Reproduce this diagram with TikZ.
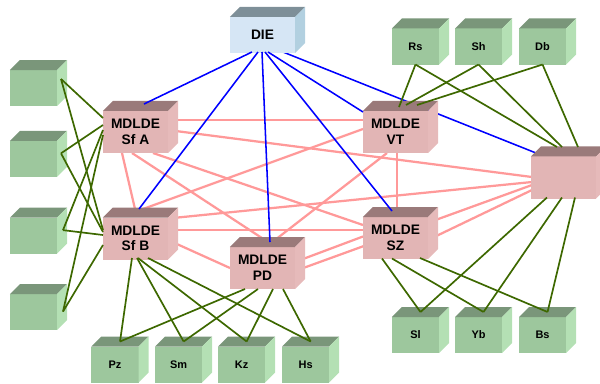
\documentclass[tikz,border=0pt]{standalone}
\usepackage{fontspec}
\setmainfont{Liberation Sans}
\usetikzlibrary{calc,positioning}
\pgfdeclarelayer{background}
\pgfdeclarelayer{foreground}
\pgfsetlayers{background,main,foreground}
\definecolor{frontgreen}{RGB}{157,199,157}
\definecolor{topgreen}{RGB}{122,150,122}
\definecolor{sidegreen}{RGB}{180,224,180}
\definecolor{frontpink}{RGB}{226,181,181}
\definecolor{toppink}{RGB}{154,122,122}
\definecolor{sidepink}{RGB}{230,186,186}
\definecolor{frontdie}{RGB}{214,230,245}
\definecolor{topdie}{RGB}{126,143,152}
\definecolor{sidedie}{RGB}{178,208,224}
\definecolor{linkblue}{RGB}{0,0,255}
\definecolor{linkgreen}{RGB}{61,104,0}
\definecolor{linkpink}{RGB}{255,153,153}
\tikzstyle{mdlde}=[fill=frontpink, minimum width=1.625cm, minimum height=1.05cm,
    inner sep=0pt, outer sep=0pt, align=center, font=\fontsize{9.8}{11.1}\selectfont\bfseries]
\tikzstyle{diebox}=[mdlde, fill=frontdie, minimum height=0.9cm]
\tikzstyle{datastore}=[mdlde, fill=frontgreen, minimum width=1.175cm, minimum height=0.9cm,
    font=\fontsize{7.8}{9}\selectfont\bfseries]
\tikzstyle{rpc}=[draw=linkblue, line width=1.1pt]
\tikzstyle{peer}=[draw=linkpink, line width=1.6pt]
\tikzstyle{feed}=[draw=linkgreen, line width=1.2pt]
\def\cubedepth{10}

\begin{document}
\begin{tikzpicture}[x=0.025cm,y=-0.025cm]
    \useasboundingbox (0,0) rectangle (600,383);
	% Define the nodes in the picture
    \node[diebox] (die) at (262.5,35) {DIE};
    \node[mdlde] (sfa) at (135.5,132) {MDLDE\\Sf A};
    \node[mdlde] (sfb) at (135.5,238.5) {MDLDE\\Sf B};
    \node[mdlde] (pd) at (262.5,268) {MDLDE\\PD};
    \node[mdlde] (vt) at (395.5,132) {MDLDE\\VT};
    \node[mdlde] (sz) at (395.5,238) {MDLDE\\SZ};
    \node[mdlde] (hub) at (563.5,177.5) {};
    \node[datastore] (l1) at (33.5,88) {};
    \node[datastore,below of=l1,node distance=1.77cm] (l2) {};
    \node[datastore,below of=l2,node distance=1.92cm] (l3) {};
    \node[datastore,below of=l3,node distance=1.91cm] (l4) {};
    \node[datastore] (rs) at (415.5,46.5) {Rs};
    \node[datastore,right of=rs,node distance=1.575cm] (sh) {Sh};
    \node[datastore,right of=sh,node distance=1.6cm] (db) {Db};
    \node[datastore] (pz) at (115,364.5) {Pz};
    \node[datastore,right of=pz,node distance=1.59cm] (sm) {Sm};
    \node[datastore,right of=sm,node distance=1.575cm] (kz) {Kz};
    \node[datastore,right of=kz,node distance=1.6cm] (hs) {Hs};
    \node[datastore] (sl) at (415.5,335) {Sl};
    \node[datastore,right of=sl,node distance=1.575cm] (yb) {Yb};
    \node[datastore,right of=yb,node distance=1.6cm] (bs) {Bs};

    % top and side faces of the boxes
    \foreach \n/\c in {die/die,sfa/pink,sfb/pink,pd/pink,vt/pink,sz/pink,hub/pink,
        l1/green,l2/green,l3/green,l4/green,rs/green,sh/green,db/green,
        pz/green,sm/green,kz/green,hs/green,sl/green,yb/green,bs/green}{
        \fill[fill=top\c] (\n.north west) -- ++(\cubedepth,-\cubedepth)
            -- ([shift={(\cubedepth,-\cubedepth)}]\n.north east) -- (\n.north east) -- cycle;
        \fill[fill=side\c] (\n.north east) -- ++(\cubedepth,-\cubedepth)
            -- ([shift={(\cubedepth,-\cubedepth)}]\n.south east) -- (\n.south east) -- cycle;
    }

    % Define the edges in the picture
    \begin{pgfonlayer}{background}
    \draw[peer] ($(sfa)+(32.5,-12)$) -- ($(vt)+(-32.5,-12)$);
    \draw[peer] ($(sfa)+(32.5,-2)$) -- ($(hub)+(-31.5,-0.5)$);
    \draw[peer] ($(sfa)+(-13.5,21)$) -- ($(sfb)+(-0.5,-29.5)$);
    \draw[peer] ($(sfa)+(-3.5,21)$) -- ($(pd)+(5.5,-26)$);
    \draw[peer] ($(sfa)+(17.5,21)$) -- ($(sz)+(-32.5,-13)$);
    \draw[peer] ($(sfb)+(7.5,-29.5)$) -- ($(vt)+(-32.5,-3)$);
    \draw[peer] ($(sfb)+(32.5,-20)$) -- ($(hub)+(-31.5,4.5)$);
    \draw[peer] ($(sfb)+(32.5,-8.5)$) -- ($(sz)+(-32.5,-8)$);
    \draw[peer] ($(sfb)+(32.5,1.5)$) -- ($(pd)+(-32.5,0)$);
    \draw[peer] ($(pd)+(12.5,-28)$) -- ($(vt)+(-8.5,21)$);
    \draw[peer] ($(pd)+(32.5,-6)$) -- ($(sz)+(-32.5,-1.5)$);
    \draw[peer] ($(pd)+(32.5,3)$) -- ($(hub)+(-31.5,7.5)$);
    \draw[peer] ($(vt)+(1.5,21)$) -- ($(sz)+(1.5,-28)$);
    \draw[peer] ($(sz)+(32.5,2)$) -- ($(hub)+(-31.5,12.5)$);
    \draw[rpc] ($(die)+(20.5,17)$) -- ($(hub)+(-27.5,-24.5)$);
    \end{pgfonlayer}

    \begin{pgfonlayer}{foreground}
    \draw[rpc] ($(die)+(-10.5,17)$) -- ($(sfa)+(8.5,-28)$);
    \draw[rpc] ($(die)+(-4.5,17)$) -- ($(sfb)+(3.5,-29.5)$);
    \draw[rpc] ($(die)+(-0.5,17)$) -- ($(pd)+(7.5,-26)$);
    \draw[rpc] ($(die)+(2.5,17)$) -- ($(sz)+(-3.5,-27)$);
    \draw[rpc] ($(die)+(5.5,17)$) -- ($(vt)+(-32.5,-20)$);

    \draw[feed] ($(l1)+(27.5,-9)$) -- ($(sfa)+(-32.5,-14)$);
    \draw[feed] ($(l1)+(27.5,-9)$) -- ($(sfb)+(-32.5,-8.5)$);
    \draw[feed] ($(l2)+(27.5,-5.5)$) -- ($(sfa)+(-32.5,-7)$);
    \draw[feed] ($(l2)+(27.5,-5.5)$) -- ($(sfb)+(-32.5,-6.5)$);
    \draw[feed] ($(l3)+(29.5,-5.5)$) -- ($(sfa)+(-32.5,-2)$);
    \draw[feed] ($(l3)+(29.5,-5.5)$) -- ($(sfb)+(-32.5,-3.5)$);
    \draw[feed] ($(l4)+(29.5,-0.5)$) -- ($(sfa)+(-32.5,3)$);
    \draw[feed] ($(l4)+(29.5,-0.5)$) -- ($(sfb)+(-32.5,6.5)$);

    \draw[feed] (rs.south) -- ($(vt)+(3.5,-25)$);
    \draw[feed] (rs.south) -- ($(hub)+(-6.5,-30.5)$);
    \draw[feed] (sh.south) -- ($(vt)+(10.5,-27)$);
    \draw[feed] (sh.south) -- ($(hub)+(-1.5,-30.5)$);
    \draw[feed] (db.south) -- ($(vt)+(21.5,-27)$);
    \draw[feed] (db.south) -- ($(hub)+(14.5,-30.5)$);

    \draw[feed] ($(sfb)+(-3.5,19.5)$) -- ($(pz)+(5,-23)$);
    \draw[feed] ($(sfb)+(1.5,19.5)$) -- ($(sm)+(5,-23)$);
    \draw[feed] ($(sfb)+(2.5,19.5)$) -- ($(kz)+(5,-23)$);
    \draw[feed] ($(sfb)+(12.5,19.5)$) -- ($(hs)+(5,-23)$);
    \draw[feed] ($(pd)+(-17.5,21)$) -- ($(pz)+(5,-23)$);
    \draw[feed] ($(pd)+(-4.5,21)$) -- ($(sm)+(5,-23)$);
    \draw[feed] ($(pd)+(10.5,21)$) -- ($(kz)+(5,-23)$);
    \draw[feed] ($(pd)+(20.5,21)$) -- ($(hs)+(5,-23)$);

    \draw[feed] ($(sz)+(-13.5,20.5)$) -- ($(sl)+(5,-23)$);
    \draw[feed] ($(sz)+(-3.5,20.5)$) -- ($(yb)+(5,-23)$);
    \draw[feed] ($(sz)+(24.5,20)$) -- ($(bs)+(5,-23)$);
    \draw[feed] ($(hub)+(-16.5,20)$) -- ($(sl)+(5,-23)$);
    \draw[feed] ($(hub)+(-1.5,20)$) -- ($(yb)+(5,-23)$);
    \draw[feed] ($(hub)+(11.5,20)$) -- ($(bs)+(5,-23)$);
    \end{pgfonlayer}
\end{tikzpicture}
\end{document}
